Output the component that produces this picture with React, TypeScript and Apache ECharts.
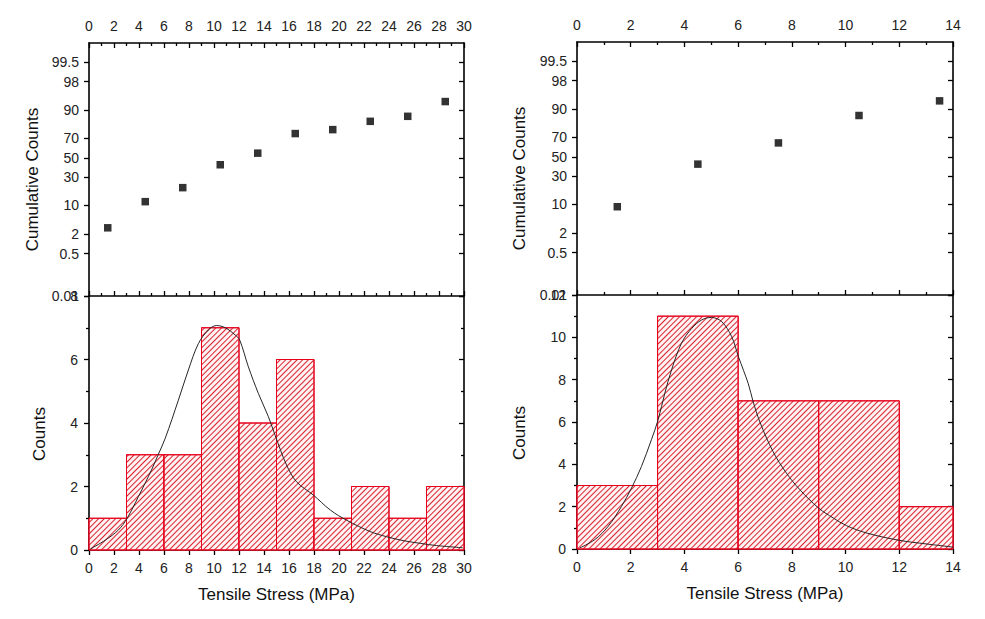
import React, { useEffect, useRef } from "react";
import * as echarts from "echarts";

// ---------- data ----------
const binWidth = 3;
const leftBinCenters = [1.5, 4.5, 7.5, 10.5, 13.5, 16.5, 19.5, 22.5, 25.5, 28.5];
const leftCounts = [1, 3, 3, 7, 4, 6, 1, 2, 1, 2];
const leftCumPercent = [2.98, 11.9, 21.1, 42.6, 55.0, 74.3, 77.6, 83.7, 86.8, 93.5];
const leftFitX = [0.1, 1.3, 2.35, 3.05, 3.95, 5.0, 5.5, 6.1, 7.15, 7.95, 8.75, 9.55, 10.2, 10.9, 11.7, 12.05, 12.75, 13.55, 14.35, 14.9, 15.8, 16.6, 17.95, 19.3, 20.6, 22.5, 23.8, 25.2, 26.5, 27.8, 29.9];
const leftFitY = [0.03, 0.31, 0.63, 1.0, 1.68, 2.52, 2.97, 3.52, 4.72, 5.67, 6.5, 6.93, 7.07, 7.0, 6.77, 6.62, 5.77, 4.93, 4.2, 3.6, 2.68, 2.15, 1.73, 1.26, 0.94, 0.58, 0.42, 0.29, 0.21, 0.14, 0.07];

const rightBinCenters = [1.5, 4.5, 7.5, 10.5, 13.5];
const rightCounts = [3, 11, 7, 7, 2];
const rightCumPercent = [8.96, 42.2, 64.6, 86.7, 93.4];
const rightFitX = [0.1, 0.66, 1.16, 1.65, 2.03, 2.4, 2.77, 3.02, 3.27, 3.52, 3.89, 4.27, 4.64, 5.0, 5.39, 5.76, 6.01, 6.38, 6.55, 6.81, 7.3, 7.8, 8.3, 9.0, 9.55, 10.04, 10.8, 12.0, 13.0, 14.0];
const rightFitY = [0.05, 0.44, 1.07, 2.0, 2.88, 3.9, 5.16, 6.1, 7.36, 8.46, 9.72, 10.42, 10.82, 10.94, 10.74, 10.03, 9.09, 7.8, 7.0, 6.0, 4.6, 3.58, 2.8, 1.93, 1.46, 1.1, 0.75, 0.41, 0.24, 0.09];

const probTickLabels = [0.01, 0.5, 2, 10, 30, 50, 70, 90, 98, 99.5];
const probAxisMinPct = 0.01;
const probAxisMaxPct = 99.9;

const leftXMax = 30;
const rightXMax = 14;
const leftCountMax = 8;
const rightCountMax = 12;

// ---------- helpers ----------
function probit(p: number): number {
  const a = [-3.969683028665376e1, 2.209460984245205e2, -2.759285104469687e2, 1.38357751867269e2, -3.066479806614716e1, 2.506628277459239];
  const b = [-5.447609879822406e1, 1.615858368580409e2, -1.556989798598866e2, 6.680131188771972e1, -1.328068155288572e1];
  const c = [-7.784894002430293e-3, -3.223964580411365e-1, -2.400758277161838, -2.549732539343734, 4.374664141464968, 2.938163982698783];
  const d = [7.784695709041462e-3, 3.224671290700398e-1, 2.445134137142996, 3.754408661907416];
  const pl = 0.02425;
  const ph = 1 - pl;
  if (p < pl) {
    const q = Math.sqrt(-2 * Math.log(p));
    return (((((c[0] * q + c[1]) * q + c[2]) * q + c[3]) * q + c[4]) * q + c[5]) / ((((d[0] * q + d[1]) * q + d[2]) * q + d[3]) * q + 1);
  }
  if (p <= ph) {
    const q = p - 0.5;
    const r = q * q;
    return ((((((a[0] * r + a[1]) * r + a[2]) * r + a[3]) * r + a[4]) * r + a[5]) * q) / (((((b[0] * r + b[1]) * r + b[2]) * r + b[3]) * r + b[4]) * r + 1);
  }
  const q = Math.sqrt(-2 * Math.log(1 - p));
  return -(((((c[0] * q + c[1]) * q + c[2]) * q + c[3]) * q + c[4]) * q + c[5]) / ((((d[0] * q + d[1]) * q + d[2]) * q + d[3]) * q + 1);
}
const pz = (pct: number) => probit(pct / 100);
const probTickZ = probTickLabels.map(pz);
const probFormatter = (v: number) => {
  let best = 0;
  let bd = Infinity;
  probTickZ.forEach((z, i) => {
    const dd = Math.abs(z - v);
    if (dd < bd) { bd = dd; best = i; }
  });
  return String(probTickLabels[best]);
};

const FONT = "'Liberation Sans', Arial, Helvetica, sans-serif";
const labelStyle = { fontFamily: FONT, fontSize: 14, color: "#222" };
const nameStyle = { fontFamily: FONT, fontSize: 17, color: "#111" };
const axisLine = { show: true, onZero: false, lineStyle: { color: "#000", width: 1.6 } };
const tickLine = { color: "#000", width: 1.3 };

const xTop = (gridIndex: number, max: number) => ({
  type: "value", gridIndex, position: "top", min: 0, max, interval: 2,
  axisLine,
  axisTick: { show: true, inside: true, length: 5, lineStyle: tickLine },
  minorTick: { show: true, splitNumber: 2, length: 3, lineStyle: tickLine },
  axisLabel: { ...labelStyle, margin: 10 },
  splitLine: { show: false }, minorSplitLine: { show: false },
});
const xDivider = (gridIndex: number, max: number) => ({
  type: "value", gridIndex, position: "bottom", min: 0, max, interval: 2,
  axisLine,
  axisTick: { show: true, inside: true, length: 5, lineStyle: tickLine },
  minorTick: { show: true, splitNumber: 2, length: 3, lineStyle: tickLine },
  axisLabel: { show: false },
  splitLine: { show: false }, minorSplitLine: { show: false },
});
const xBottom = (gridIndex: number, max: number) => ({
  type: "value", gridIndex, position: "bottom", min: 0, max, interval: 2,
  axisLine,
  axisTick: { show: true, inside: false, length: 5, lineStyle: tickLine },
  axisLabel: { ...labelStyle, margin: 11 },
  splitLine: { show: false },
  name: "Tensile Stress (MPa)", nameLocation: "middle", nameGap: 36, nameTextStyle: nameStyle,
});
const yProbLeft = (gridIndex: number, nameGap: number) => ({
  type: "value", gridIndex, position: "left", min: pz(probAxisMinPct), max: pz(probAxisMaxPct),
  axisLine,
  axisTick: { show: true, inside: false, length: 5, lineStyle: tickLine, customValues: probTickZ },
  axisLabel: { ...labelStyle, margin: 10, customValues: probTickZ, formatter: probFormatter },
  splitLine: { show: false },
  name: "Cumulative Counts", nameLocation: "middle", nameGap, nameTextStyle: { ...nameStyle, padding: [0, 20, 0, 0] },
});
const yProbRight = (gridIndex: number) => ({
  type: "value", gridIndex, position: "right", min: pz(probAxisMinPct), max: pz(probAxisMaxPct),
  axisLine,
  axisTick: { show: true, inside: true, length: 5, lineStyle: tickLine, customValues: probTickZ },
  axisLabel: { show: false },
  splitLine: { show: false },
});
const yCountLeft = (gridIndex: number, max: number, nameGap: number) => ({
  type: "value", gridIndex, position: "left", min: 0, max, interval: 2,
  axisLine,
  axisTick: { show: true, inside: false, length: 5, lineStyle: tickLine },
  minorTick: { show: true, splitNumber: 2, length: 3, lineStyle: tickLine },
  axisLabel: { ...labelStyle, margin: 11, showMaxLabel: true },
  splitLine: { show: false }, minorSplitLine: { show: false },
  name: "Counts", nameLocation: "middle", nameGap, nameTextStyle: { ...nameStyle, padding: [0, 22, 0, 0] },
});
const yCountRight = (gridIndex: number, max: number) => ({
  type: "value", gridIndex, position: "right", min: 0, max, interval: 2,
  axisLine,
  axisTick: { show: true, inside: true, length: 5, lineStyle: tickLine },
  minorTick: { show: true, splitNumber: 2, length: 3, lineStyle: tickLine },
  axisLabel: { show: false },
  splitLine: { show: false }, minorSplitLine: { show: false },
});

const hatch = {
  symbol: "rect",
  symbolSize: 1,
  color: "#d8222e",
  dashArrayX: [1, 0],
  dashArrayY: [1, 2.2],
  rotation: -Math.PI / 4,
};

const scatterSeries = (x: number[], pct: number[], xi: number, yi: number) => ({
  type: "scatter", xAxisIndex: xi, yAxisIndex: yi, symbol: "rect", symbolSize: 7.5,
  itemStyle: { color: "#000" },
  data: x.map((v, i) => [v, pz(pct[i])]),
});
const histSeries = (centers: number[], counts: number[], xi: number, yi: number) => ({
  type: "custom", xAxisIndex: xi, yAxisIndex: yi,
  encode: { x: [0, 1], y: 2 },
  data: centers.map((cx, i) => [cx - binWidth / 2, cx + binWidth / 2, counts[i]]),
  renderItem: (params: any, api: any) => {
    const p0 = api.coord([api.value(0), api.value(2)]);
    const p1 = api.coord([api.value(1), 0]);
    const cs = params.coordSys;
    const shape = echarts.graphic.clipRectByRect(
      { x: p0[0], y: p0[1], width: p1[0] - p0[0], height: p1[1] - p0[1] },
      { x: cs.x, y: cs.y, width: cs.width, height: cs.height }
    );
    if (!shape) return null;
    return {
      type: "rect",
      shape,
      style: { fill: "#fff2f2", stroke: "#e8001c", lineWidth: 1, decal: hatch },
    };
  },
});
const lineSeries = (x: number[], y: number[], xi: number, yi: number) => ({
  type: "line", xAxisIndex: xi, yAxisIndex: yi, smooth: 0.35, symbol: "none", showSymbol: false,
  lineStyle: { color: "#262626", width: 1 },
  data: x.map((v, i) => [v, y[i]]),
});

export default function App() {
  const ref = useRef<HTMLDivElement>(null);
  useEffect(() => {
    if (!ref.current) return;
    const chart = echarts.init(ref.current, undefined, { renderer: "svg" });
    chart.setOption({
      animation: false,
      backgroundColor: "#fff",
      grid: [
        { left: 89, top: 43, width: 375, height: 253 },
        { left: 89, top: 296, width: 375, height: 254 },
        { left: 577, top: 42, width: 376, height: 253 },
        { left: 577, top: 295, width: 376, height: 254 },
      ],
      xAxis: [
        xTop(0, leftXMax), xDivider(0, leftXMax), xBottom(1, leftXMax),
        xTop(2, rightXMax), xDivider(2, rightXMax), xBottom(3, rightXMax),
      ],
      yAxis: [
        yProbLeft(0, 48), yProbRight(0), yCountLeft(1, leftCountMax, 41), yCountRight(1, leftCountMax),
        yProbLeft(2, 49), yProbRight(2), yCountLeft(3, rightCountMax, 49), yCountRight(3, rightCountMax),
      ],
      series: [
        scatterSeries(leftBinCenters, leftCumPercent, 0, 0),
        histSeries(leftBinCenters, leftCounts, 2, 2),
        lineSeries(leftFitX, leftFitY, 2, 2),
        scatterSeries(rightBinCenters, rightCumPercent, 3, 4),
        histSeries(rightBinCenters, rightCounts, 5, 6),
        lineSeries(rightFitX, rightFitY, 5, 6),
      ],
    });
    return () => chart.dispose();
  }, []);
  return <div ref={ref} style={{ position: "absolute", left: 0, top: 0, width: 985, height: 619 }} />;
}
